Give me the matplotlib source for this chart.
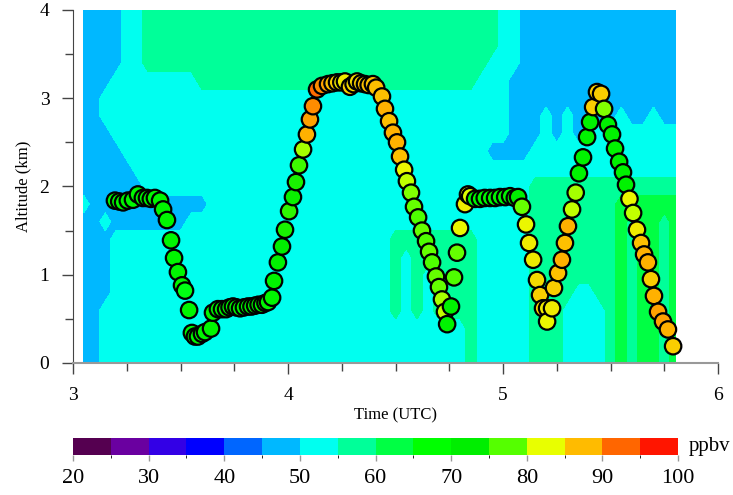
import re
import numpy as np
import matplotlib
matplotlib.use("Agg")
import matplotlib.pyplot as plt
from matplotlib.colors import ListedColormap, BoundaryNorm, LinearSegmentedColormap
from matplotlib.cm import ScalarMappable
from matplotlib.ticker import MultipleLocator

plt.rcParams['font.family'] = ['Liberation Serif', 'DejaVu Serif']

# ozone colour scale, 5 ppbv bins from 20 to 100
levels = np.arange(20, 101, 5)
level_colors = ['#550050', '#6a00a0', '#3300e6', '#0000ff', '#0066ff', '#00b8ff',
                '#00fff0', '#00ff99', '#00ff44', '#00ff00', '#00ee00', '#55ff00',
                '#e8ff00', '#ffbb00', '#ff6600', '#ff1500']

# model curtain, run-length coded: one row per altitude (4 km down to 0),
# 56 time columns from 3.05 to 5.80 UTC
field_time = np.round(np.arange(3.05, 5.8001, 0.05), 2)
field_alt = np.round(np.arange(4.0, -0.001, -0.2), 1)
field_codes = {'b': 47.5, 'c': 52.5, 'g': 57.5, 'G': 62.5}
field_rows = [
    '4b 2c 33g 2c 15b',                                   # 4.0
    '4b 2c 33g 2c 15b',                                   # 3.8
    '4b 2c 33g 2c 15b',                                   # 3.6
    '4b 2c 32g 3c 15b',                                   # 3.4
    '3b 8c 26g 3c 16b',                                   # 3.2
    '2b 38c 16b',                                         # 3.0
    '2b 38c 3b 1c 1b 1c 4b 1c 2b 1c 2b',                  # 2.8
    '3b 37c 3b 1c 1b 1c 1b 9c',                           # 2.6
    '4b 34c 4b 14c',                                      # 2.4
    '5b 51c',                                             # 2.2
    '6b 36c 14g',                                         # 2.0
    '1c 11b 30c 8g 6G',                                   # 1.8
    '2b 1c 7b 32c 8g 1G 1g 2G 1g 1G',                     # 1.6
    '3b 26c 8g 5c 8g 1G 1g 2G 1g 1G',                     # 1.4
    '3b 26c 1g 1c 6g 5c 8g 1G 1g 2G 1g 1G',               # 1.2
    '3b 26c 1g 1c 1g 1c 4g 5c 8g 1G 1g 2G 1g 1G',         # 1.0
    '3b 26c 1g 1c 1g 1c 4g 5c 4g 2c 2g 1G 1g 2G 1g 1G',   # 0.8
    '2b 27c 1g 1c 1g 1c 4g 5c 3g 4c 1g 1G 1g 2G 1g 1G',   # 0.6
    '2b 34c 1g 5c 3g 4c 1g 1G 1g 2G 1g 1G',               # 0.4
    '2b 34c 1g 5c 3g 4c 1g 1G 1g 2G 1g 1G',               # 0.2
    '2b 34c 1g 5c 3g 4c 1g 1G 1g 2G 1g 1G',               # 0.0
]

# aircraft track: time (UTC h), altitude (km), measured ozone (ppbv)
track_time = [3.195, 3.215, 3.233, 3.255, 3.279, 3.302, 3.325, 3.344, 3.362, 3.381,
              3.405, 3.419, 3.437, 3.456, 3.470, 3.488, 3.507, 3.521, 3.540, 3.553,
              3.567, 3.581, 3.600, 3.614, 3.642, 3.651, 3.674, 3.693, 3.712, 3.728,
              3.744, 3.760, 3.777, 3.795, 3.814, 3.830, 3.847, 3.863, 3.879, 3.895,
              3.907, 3.926, 3.935, 3.953, 3.972, 3.986, 4.005, 4.023, 4.037, 4.051,
              4.070, 4.088, 4.102, 4.116, 4.135, 4.158, 4.186, 4.207, 4.228, 4.248,
              4.265, 4.288, 4.305, 4.321, 4.340, 4.358, 4.375, 4.395, 4.410, 4.437,
              4.451, 4.470, 4.488, 4.507, 4.521, 4.540, 4.553, 4.572, 4.586, 4.605,
              4.623, 4.642, 4.656, 4.670, 4.688, 4.702, 4.716, 4.730, 4.740, 4.758,
              4.772, 4.786, 4.800, 4.823, 4.837, 4.847, 4.870, 4.893, 4.915, 4.940,
              4.963, 4.986, 5.010, 5.033, 5.055, 5.070, 5.088, 5.107, 5.121, 5.140,
              5.158, 5.172, 5.186, 5.205, 5.205, 5.228, 5.237, 5.256, 5.274, 5.288,
              5.302, 5.321, 5.338, 5.353, 5.372, 5.391, 5.405, 5.419, 5.437, 5.456,
              5.470, 5.488, 5.507, 5.521, 5.540, 5.558, 5.572, 5.588, 5.605, 5.623,
              5.642, 5.656, 5.674, 5.688, 5.702, 5.721, 5.744, 5.767, 5.791]
track_alt = [1.84, 1.83, 1.82, 1.84, 1.85, 1.91, 1.87, 1.87, 1.86, 1.87,
             1.84, 1.74, 1.62, 1.39, 1.19, 1.03, 0.88, 0.82, 0.60, 0.34,
             0.30, 0.30, 0.33, 0.35, 0.39, 0.57, 0.61, 0.61, 0.61, 0.63,
             0.64, 0.63, 0.62, 0.63, 0.64, 0.64, 0.65, 0.66, 0.66, 0.68,
             0.69, 0.74, 0.93, 1.14, 1.32, 1.51, 1.72, 1.88, 2.05, 2.24,
             2.42, 2.59, 2.76, 2.91, 3.10, 3.14, 3.16, 3.17, 3.18, 3.18,
             3.19, 3.13, 3.16, 3.19, 3.17, 3.16, 3.15, 3.16, 3.12, 3.02,
             2.88, 2.74, 2.61, 2.50, 2.34, 2.19, 2.06, 1.93, 1.77, 1.65,
             1.50, 1.38, 1.26, 1.14, 0.98, 0.86, 0.72, 0.58, 0.44, 0.64,
             0.97, 1.25, 1.53, 1.80, 1.91, 1.89, 1.86, 1.86, 1.87, 1.87,
             1.87, 1.88, 1.88, 1.89, 1.87, 1.88, 1.77, 1.57, 1.36, 1.17,
             0.94, 0.77, 0.62, 0.62, 0.47, 0.62, 0.85, 1.02, 1.17, 1.36,
             1.55, 1.74, 1.93, 2.15, 2.33, 2.56, 2.73, 2.90, 3.07, 3.05,
             2.88, 2.70, 2.59, 2.43, 2.28, 2.16, 2.02, 1.86, 1.70, 1.51,
             1.36, 1.23, 1.14, 0.95, 0.76, 0.58, 0.47, 0.38, 0.19]
track_o3 = [70, 70, 70, 70, 70, 70, 70, 70, 70, 70,
            70, 70, 70, 70, 70, 70, 70, 66, 70, 70,
            70, 70, 70, 70, 70, 70, 70, 70, 70, 70,
            70, 70, 70, 70, 70, 70, 70, 70, 70, 70,
            70, 70, 71, 71, 72, 74, 75, 73, 74, 76,
            80, 88, 89, 90, 92, 90, 89, 87, 86, 84,
            84, 86, 85, 85, 86, 87, 87, 87, 87, 87,
            88, 87, 88, 88, 87, 83, 81, 79, 78, 77,
            78, 77, 78, 77, 78, 78, 80, 81, 71, 71,
            77, 78, 83, 84, 84, 82, 70, 69, 69, 69,
            70, 70, 70, 70, 71, 72, 78, 83, 84, 84,
            85, 86, 86, 84, 83, 84, 86, 87, 88, 87,
            88, 81, 80, 71, 71, 71, 71, 86, 86, 86,
            79, 71, 71, 71, 71, 71, 71, 83, 81, 84,
            87, 88, 88, 86, 88, 89, 89, 88, 86]


def decode_row(row):
    vals = []
    for count, code in re.findall(r'(\d+)([a-zA-Z])', row):
        vals += [field_codes[code]] * int(count)
    return vals


cmap_bins = ListedColormap(level_colors)
norm_bins = BoundaryNorm(levels, cmap_bins.N)
stops = [0.0] + [(2.5 + 5 * k) / 80 for k in range(16)] + [1.0]
cmap_smooth = LinearSegmentedColormap.from_list(
    'o3', list(zip(stops, [level_colors[0]] + level_colors + [level_colors[-1]])))

field = np.array([decode_row(r) for r in field_rows])
T, A = np.meshgrid(field_time, field_alt)

fig = plt.figure(figsize=(7.33, 4.95), dpi=100)
ax = fig.add_axes([0.0996, 0.2667, 0.880, 0.7131])

ax.contourf(T, A, field, levels=levels, cmap=cmap_bins, norm=norm_bins, zorder=1)
ax.scatter(track_time, track_alt, c=track_o3, cmap=cmap_smooth, vmin=20, vmax=100,
           s=140, edgecolors='black', linewidths=1.6, zorder=3)

ax.set_xlim(3, 6)
ax.set_ylim(0, 4)
ax.xaxis.set_major_locator(MultipleLocator(1))
ax.xaxis.set_minor_locator(MultipleLocator(0.25))
ax.yaxis.set_major_locator(MultipleLocator(1))
ax.yaxis.set_minor_locator(MultipleLocator(0.5))
ax.tick_params(which='major', direction='out', length=8, width=1, colors='#444444',
               labelsize=14, labelcolor='black', pad=9)
ax.tick_params(which='minor', direction='out', length=6, width=1, colors='#444444')
for side in ('top', 'right'):
    ax.spines[side].set_visible(False)
ax.spines['left'].set_color('#444444')
ax.spines['bottom'].set_color('#999999')
ax.spines['bottom'].set_linewidth(1.5)
ax.set_xlabel('Time (UTC)', fontsize=12, labelpad=3)
ax.set_ylabel('Altitude (km)', fontsize=12, labelpad=6)

cax = fig.add_axes([0.0996, 0.0808, 0.8254, 0.0343])
cb = fig.colorbar(ScalarMappable(norm=norm_bins, cmap=cmap_bins), cax=cax,
                  orientation='horizontal', ticks=np.arange(20, 101, 10))
cb.outline.set_visible(False)
cax.tick_params(length=4, width=1, colors='#999999', labelsize=16,
                labelcolor='black', pad=6)
fig.text(0.940, 0.098, 'ppbv', fontsize=15, ha='left', va='center')

fig.savefig('out.png', dpi=100)
